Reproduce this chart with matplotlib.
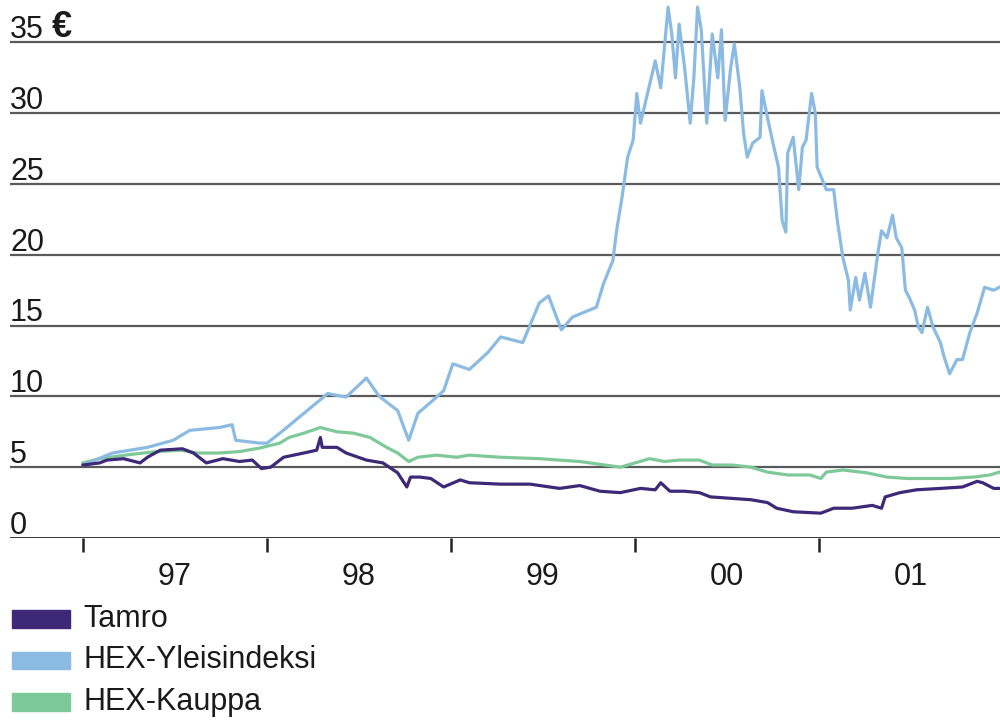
import matplotlib.pyplot as plt
from matplotlib.patches import Rectangle
from matplotlib.transforms import blended_transform_factory

plt.rcParams['font.family'] = ['Liberation Sans', 'DejaVu Sans']

# Kurssit indeksoituna samaan lähtötasoon (euroa)
hex_vuosi = [1997.00, 1997.16, 1997.35, 1997.49, 1997.58, 1997.74, 1997.81, 1997.83,
             1997.96, 1998.00, 1998.07, 1998.20, 1998.33, 1998.43, 1998.54, 1998.61,
             1998.71, 1998.77, 1998.82, 1998.90, 1998.96, 1999.01, 1999.10, 1999.20,
             1999.27, 1999.39, 1999.48, 1999.53, 1999.60, 1999.66, 1999.79, 1999.83,
             1999.88, 1999.90, 1999.93, 1999.96, 1999.99, 2000.01, 2000.03, 2000.05,
             2000.11, 2000.14, 2000.18, 2000.20, 2000.22, 2000.24, 2000.27, 2000.30,
             2000.32, 2000.34, 2000.36, 2000.39, 2000.42, 2000.45, 2000.47, 2000.49,
             2000.52, 2000.54, 2000.57, 2000.59, 2000.61, 2000.64, 2000.68, 2000.69,
             2000.72, 2000.75, 2000.78, 2000.80, 2000.82, 2000.83, 2000.86, 2000.89,
             2000.91, 2000.93, 2000.96, 2000.98, 2000.99, 2001.04, 2001.08, 2001.10,
             2001.13, 2001.16, 2001.17, 2001.20, 2001.22, 2001.25, 2001.28, 2001.32,
             2001.34, 2001.37, 2001.40, 2001.42, 2001.45, 2001.47, 2001.49, 2001.52,
             2001.54, 2001.56, 2001.59, 2001.62, 2001.66, 2001.68, 2001.71, 2001.75,
             2001.78, 2001.82, 2001.86, 2001.90, 2001.95, 2001.98]
hex_yleis = [5.15, 6.0, 6.4, 6.9, 7.6, 7.8, 8.0, 6.9,
             6.7, 6.7, 7.4, 8.8, 10.2, 9.95, 11.3, 10.0,
             9.0, 6.9, 8.8, 9.7, 10.4, 12.3, 11.9, 13.1,
             14.2, 13.8, 16.6, 17.1, 14.7, 15.6, 16.3, 18.0,
             19.6, 21.7, 24.1, 26.9, 28.1, 31.4, 29.3, 30.4,
             33.7, 31.8, 37.5, 35.6, 32.5, 36.3, 33.2, 29.3,
             32.5, 37.5, 35.9, 29.3, 35.6, 32.5, 35.9, 29.5,
             33.2, 34.9, 31.8, 28.6, 26.9, 27.9, 28.3, 31.6,
             29.7, 27.9, 26.2, 22.4, 21.6, 27.2, 28.3, 24.6,
             27.6, 28.1, 31.4, 30.0, 26.2, 24.6, 24.6, 22.4,
             19.8, 18.2, 16.1, 18.4, 16.8, 18.7, 16.3, 20.1,
             21.7, 21.2, 22.8, 21.2, 20.5, 17.5, 17.0, 16.1,
             14.9, 14.5, 16.3, 14.9, 13.8, 12.8, 11.6, 12.6,
             12.6, 14.5, 15.9, 17.7, 17.5, 17.7]

tamro_vuosi = [1997.00, 1997.09, 1997.13, 1997.22, 1997.31, 1997.35, 1997.42, 1997.54,
               1997.60, 1997.67, 1997.76, 1997.85, 1997.92, 1997.97, 1998.02, 1998.09,
               1998.20, 1998.27, 1998.29, 1998.30, 1998.38, 1998.43, 1998.54, 1998.63,
               1998.71, 1998.76, 1998.78, 1998.83, 1998.89, 1998.96, 1999.05, 1999.10,
               1999.27, 1999.43, 1999.59, 1999.70, 1999.81, 1999.92, 2000.03, 2000.11,
               2000.14, 2000.19, 2000.27, 2000.35, 2000.41, 2000.52, 2000.63, 2000.72,
               2000.77, 2000.86, 2001.01, 2001.08, 2001.18, 2001.29, 2001.34, 2001.36,
               2001.44, 2001.53, 2001.66, 2001.78, 2001.86, 2001.89, 2001.95, 2001.98]
tamro = [5.15, 5.3, 5.5, 5.6, 5.3, 5.7, 6.2, 6.3,
         6.0, 5.3, 5.6, 5.4, 5.5, 4.9, 5.0, 5.7,
         6.0, 6.2, 7.1, 6.4, 6.4, 6.0, 5.5, 5.3,
         4.6, 3.6, 4.3, 4.3, 4.2, 3.6, 4.1, 3.9,
         3.8, 3.8, 3.5, 3.7, 3.3, 3.2, 3.5, 3.4,
         3.9, 3.3, 3.3, 3.2, 2.9, 2.8, 2.7, 2.5,
         2.1, 1.85, 1.75, 2.1, 2.1, 2.3, 2.1, 2.9,
         3.2, 3.4, 3.5, 3.6, 4.0, 3.9, 3.5, 3.5]

kauppa_vuosi = [1997.00, 1997.09, 1997.26, 1997.40, 1997.53, 1997.62, 1997.74, 1997.85,
                1997.96, 1998.07, 1998.12, 1998.20, 1998.29, 1998.38, 1998.47, 1998.56,
                1998.65, 1998.71, 1998.77, 1998.82, 1998.92, 1999.03, 1999.10, 1999.27,
                1999.48, 1999.70, 1999.81, 1999.92, 2000.08, 2000.16, 2000.24, 2000.35,
                2000.42, 2000.53, 2000.63, 2000.72, 2000.83, 2000.95, 2001.01, 2001.04,
                2001.13, 2001.26, 2001.37, 2001.48, 2001.59, 2001.71, 2001.84, 2001.93,
                2001.98]
hex_kauppa = [5.3, 5.6, 5.9, 6.1, 6.2, 6.0, 6.0, 6.1,
              6.35, 6.7, 7.1, 7.4, 7.8, 7.5, 7.4, 7.1,
              6.4, 6.0, 5.4, 5.7, 5.85, 5.7, 5.85, 5.7,
              5.6, 5.4, 5.2, 5.0, 5.6, 5.4, 5.5, 5.5,
              5.15, 5.15, 5.0, 4.65, 4.45, 4.45, 4.2, 4.65,
              4.8, 4.6, 4.3, 4.2, 4.2, 4.2, 4.3, 4.45,
              4.65]

vuodet = [1997, 1998, 1999, 2000, 2001]
vuosi_nimet = ['97', '98', '99', '00', '01']
y_tasot = [0, 5, 10, 15, 20, 25, 30, 35]

sarjat = [
    ('Tamro', '#3e2978'),
    ('HEX-Yleisindeksi', '#8bbbe2'),
    ('HEX-Kauppa', '#7ec99a'),
]
varit = dict(sarjat)

fig = plt.figure(figsize=(10, 7.25), dpi=100)
ax = fig.add_axes([0.01, 0.258, 0.99, 0.742])

# Vaakaviivat (ruudukko)
for taso in y_tasot[1:]:
    ax.axhline(taso, color='#5a5a5a', lw=1.6, zorder=1)
ax.axhline(0, color='#222222', lw=2.0, zorder=1)

# Käyrät: kauppa alimmaksi, Tamro päällimmäiseksi
ax.plot(kauppa_vuosi, hex_kauppa, color=varit['HEX-Kauppa'], lw=2.3, zorder=3)
ax.plot(hex_vuosi, hex_yleis, color=varit['HEX-Yleisindeksi'], lw=2.3, zorder=4)
ax.plot(tamro_vuosi, tamro, color=varit['Tamro'], lw=2.3, zorder=5)

ax.set_xlim(1996.603, 2001.984)
ax.set_ylim(0, 38)

for s in ax.spines.values():
    s.set_visible(False)
ax.set_yticks([])

# Vuosirajat tikkeinä, vuosiluvut keskelle vuotta
ax.set_xticks(vuodet)
ax.set_xticklabels([])
ax.set_xticks([v + 0.5 for v in vuodet], minor=True)
ax.set_xticklabels(vuosi_nimet, minor=True, fontsize=22, color='#1a1a1a')
ax.tick_params(axis='x', which='major', length=10, width=1.8, color='#222222', direction='out')
ax.tick_params(axis='x', which='minor', length=0, pad=17)

# Y-akselin luvut viivojen yläpuolelle
trans = blended_transform_factory(ax.transAxes, ax.transData)
for taso in y_tasot:
    ax.annotate(str(taso), xy=(0, taso), xycoords=trans, xytext=(0, -2),
                textcoords='offset points', ha='left', va='bottom', fontsize=22,
                color='#1a1a1a')
ax.annotate('€', xy=(0, 35), xycoords=trans, xytext=(30, -2),
            textcoords='offset points', ha='left', va='bottom', fontsize=26,
            fontweight='bold', color='#1a1a1a')

# Selite
for i, (nimi, vari) in enumerate(sarjat):
    yc = 1 - (619 + i * 41.5) / 725
    fig.add_artist(Rectangle((0.012, yc - 0.012), 0.058, 0.024,
                             transform=fig.transFigure, color=vari))
    fig.text(0.083, yc, nimi, va='center', ha='left', fontsize=22, color='#1a1a1a')

fig.savefig('out.png', dpi=100)
